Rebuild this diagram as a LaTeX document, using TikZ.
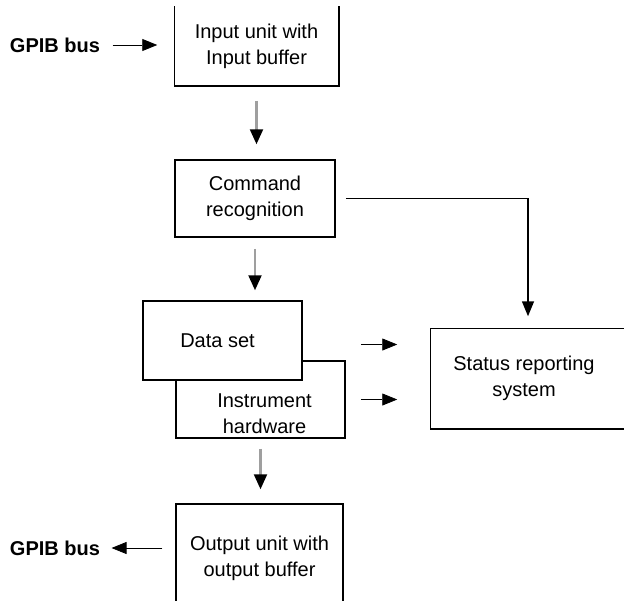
\documentclass[tikz,border=0pt]{standalone}
\usepackage{fontspec}
\setmainfont{Liberation Sans}
\usetikzlibrary{arrows.meta,positioning}

\begin{document}
\begin{tikzpicture}[
  x=1pt, y=-1pt,
  every node/.style={font=\fontsize{20}{26}\selectfont},
  unit/.style={align=center, inner sep=0pt, line width=1.5pt},
  busname/.style={font=\fontsize{20}{22}\selectfont\bfseries},
  flow/.style={draw=gray!75, line width=2.2pt,
               -{Triangle[length=15pt, width=13pt, color=black]}},
  feed/.style={line width=0.8pt, -{Triangle[length=15pt, width=12pt]}},
  tap/.style={line width=1.5pt, -{Triangle[length=15pt, width=12pt]}},
]
\useasboundingbox (0,0) rectangle (624,600);
\clip (0,0) rectangle (624,600);

% units
\node[unit, minimum width=163pt, minimum height=78pt] (inbuf) at (256.5,46)
  {Input unit with\\Input buffer};
\draw[line width=1.5pt] (inbuf.north west) -- (inbuf.south west)
  -- (inbuf.south east) -- (inbuf.north east);
\node[unit, draw, minimum width=160pt, minimum height=77pt] (cmd) at (255,198.5)
  {Command\\recognition};
\node[unit, draw, minimum width=169pt, minimum height=77pt] (hw) at (260.5,399.5)
  {\rule{0pt}{42pt}\hspace*{8pt}Instrument\\\hspace*{8pt}hardware};
\node[unit, draw, fill=white, minimum width=159pt, minimum height=79pt] (ds)
  at (222.5,340.5) {Data set\hspace*{10pt}};
\node[unit, minimum width=186pt, minimum height=99pt] (status) at (524,378.5)
  {Status reporting\\system};
\draw[line width=1.5pt] ([xshift=20pt]status.north east) -| (status.south west)
  -- ([xshift=20pt]status.south east);
\node[unit, draw, minimum width=167pt, minimum height=108pt] (outbuf)
  at (259.5,558) {Output unit with\\output buffer};

\node[busname] (gpibin) at (55,45) {GPIB bus};
\node[busname] (gpibout) at (55,548) {GPIB bus};

% connectors
\draw[feed, shorten <=9pt, shorten >=17pt] (gpibin.east) -- (inbuf.west |- gpibin);
\draw[flow, shorten <=15pt, shorten >=15pt] (inbuf.south) -- (inbuf.south |- cmd.north);
\draw[flow, shorten <=11pt, shorten >=10pt] (cmd.south) -- (cmd.south |- ds.north);
\draw[tap] ([xshift=10pt]cmd.east) -| ([xshift=4pt, yshift=12pt]status.north);
\draw[feed] ([xshift=15pt, yshift=-4pt]hw.east |- ds) -- ([xshift=-33pt, yshift=-4pt]status.west |- ds);
\draw[feed] ([xshift=15pt]hw.east) -- ([xshift=-33pt]status.west |- hw);
\draw[flow, shorten <=10pt, shorten >=14pt] (hw.south) -- (hw.south |- outbuf.north);
\draw[feed, shorten <=13pt, shorten >=8pt] (outbuf.west |- gpibout) -- (gpibout.east);
\end{tikzpicture}
\end{document}
